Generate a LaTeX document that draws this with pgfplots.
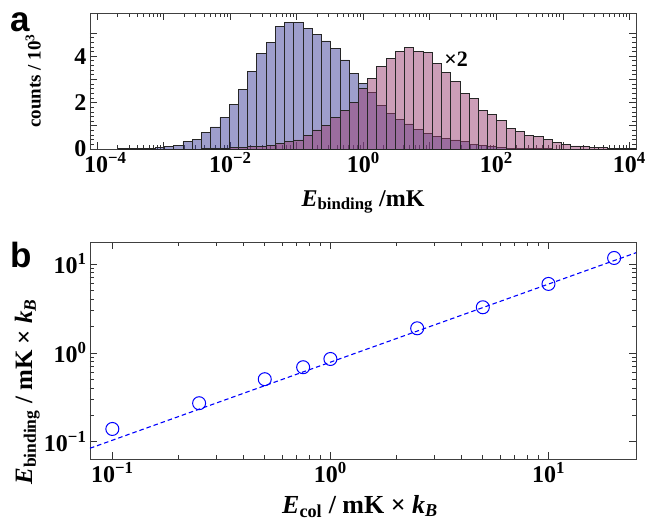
\documentclass[border=0pt]{standalone}
\usepackage{fontspec}
\setmainfont{Liberation Serif}
\newfontfamily\hv{Liberation Sans}
\usepackage{pgfplots}
\usepackage{pgfplotstable}
\pgfplotsset{compat=1.18}

\definecolor{mmblue}{rgb}{0.24,0.24,0.6}
\definecolor{mmpink}{rgb}{0.6,0.24,0.4428}
\newcommand{\tl}[1]{\textbf{10\textsuperscript{#1}}}
\newcommand{\Eb}{\textbf{\textit{E}}\textsubscript{\textbf{binding}}}

% bin left edge (mK), counts/10^3 ; last row closes the final bin
\pgfplotstableread{
edge     val
2.070e-4 0.01
2.850e-4 0.01
3.923e-4 0.02
5.400e-4 0.03
7.434e-4 0.05
1.023e-3 0.10
1.409e-3 0.16
1.939e-3 0.31
2.669e-3 0.42
3.675e-3 0.71
5.059e-3 0.95
6.964e-3 1.35
9.586e-3 1.93
1.320e-2 2.57
1.816e-2 3.33
2.500e-2 4.13
3.442e-2 4.59
4.738e-2 5.27
6.522e-2 5.46
8.979e-2 5.45
0.1236   5.20
0.1701   4.94
0.2342   4.66
0.3224   4.34
0.4438   3.84
0.6109   3.26
0.8410   2.83
1.1577   2.43
1.5937   1.88
2.1938   1.54
3.0200   1.29
4.1572   1.08
5.7228   0.85
7.8779   0.68
10.844   0.56
14.928   0.46
20.550   0.39
28.288   0.31
38.942   0.20
53.608   0.14
73.796   0.10
101.58   0.06
139.83   0.04
192.49   0.03
264.97   0.02
364.78   0.01
502.15   0.01
691.26   0
}\bluehist

\pgfplotstableread{
edge     val
3.675e-3 0.01
5.059e-3 0.02
6.964e-3 0.03
9.586e-3 0.05
1.320e-2 0.07
1.816e-2 0.10
2.500e-2 0.12
3.442e-2 0.16
4.738e-2 0.23
6.522e-2 0.31
8.979e-2 0.39
0.1236   0.58
0.1701   0.82
0.2342   1.03
0.3224   1.37
0.4438   1.68
0.6109   2.01
0.8410   2.62
1.1577   3.05
1.5937   3.55
2.1938   3.91
3.0200   4.19
4.1572   4.37
5.7228   4.19
7.8779   4.15
10.844   3.69
14.928   3.31
20.550   2.90
28.288   2.40
38.942   2.18
53.608   1.68
73.796   1.49
101.58   1.22
139.83   0.89
192.49   0.75
264.97   0.57
364.78   0.55
502.15   0.40
691.26   0.27
951.55   0.20
1309.8   0.13
1803.1   0.12
2482.0   0.07
3416.8   0.05
4703.4   0.04
6474.5   0.03
8912.5   0.02
12269    0
}\pinkhist

\pgfplotsset{
  mma/.style={
    scale only axis, anchor=south west,
    enlargelimits=false,
    axis line style={black!75, line width=0.9pt},
    major tick length=7pt, minor tick length=4pt,
    every tick/.style={black!80, line width=0.7pt},
    tick label style={font=\fontsize{24}{26}\selectfont\bfseries},
  },
}

\begin{document}
\begin{tikzpicture}
% panel a
\begin{axis}[mma,
  at={(90pt,-149pt)}, width=546pt, height=136pt,
  xmode=log, xmin=7.76e-5, xmax=12589,
  ymin=0, ymax=5.86,
  xtick={1e-4,1e-3,1e-2,1e-1,1,1e1,1e2,1e3,1e4},
  xticklabels={\hspace*{16pt}\tl{−4},,\tl{−2},,\tl{0},,\tl{2},,\tl{4}},
  ytick={0,1,2,3,4,5},
  yticklabels={\textbf{0},,\textbf{2},,\textbf{4},},
  minor y tick num=4,
  xlabel={\Eb\ /mK},
  ylabel={\textbf{counts / 10\textsuperscript{3}}},
  every axis x label/.style={at={(axis description cs:0.5,-0.42)}, anchor=base,
    font=\fontsize{24}{26}\selectfont\bfseries},
  every axis y label/.style={at={(axis description cs:-0.104,0.5)}, anchor=center, rotate=90,
    font=\fontsize{19}{21}\selectfont\bfseries},
]
\addplot[ybar interval, fill=mmblue, fill opacity=0.5, draw=black!85, line width=0.7pt]
  table[x=edge, y=val]{\bluehist};
\addplot[ybar interval, fill=mmpink, fill opacity=0.5, draw=black!85, line width=0.7pt]
  table[x=edge, y=val]{\pinkhist};
\node[font=\fontsize{22}{24}\selectfont\bfseries] at (axis cs:24.8,3.85) {×2};
\end{axis}

% panel b
\begin{axis}[mma,
  at={(90pt,-459pt)}, width=546pt, height=217pt,
  xmode=log, ymode=log,
  xmin=0.079, xmax=25.2, ymin=0.0638, ymax=17.7,
  xtick={0.1,1,10}, xticklabels={\tl{−1},\tl{0},\tl{1}},
  ytick={0.1,1,10}, yticklabels={\tl{−1},\tl{0},\tl{1}},
  xlabel={\textbf{\textit{E}}\textsubscript{\textbf{col}}\textbf{ / mK × }\textbf{\textit{k}}\textsubscript{\textbf{\textit{B}}}},
  ylabel={\Eb\textbf{ / mK × }\textbf{\textit{k}}\textsubscript{\textbf{\textit{B}}}},
  every axis x label/.style={at={(axis description cs:0.4945,-0.249)}, anchor=base,
    font=\fontsize{26}{28}\selectfont\bfseries},
  every axis y label/.style={at={(axis description cs:-0.115,0.31)}, anchor=center, rotate=90,
    font=\fontsize{25}{27}\selectfont\bfseries},
]
\addplot[blue, line width=1.1pt, dash pattern=on 4.5pt off 3pt]
  coordinates {(0.079,0.0843) (25.2,13.4)};
\addplot[only marks, mark=o, mark size=6.5pt, blue, line width=1pt]
  coordinates {(0.1,0.139) (0.25,0.271) (0.5,0.505) (0.75,0.689) (1,0.853)
               (2.5,1.89) (5,3.26) (10,5.97) (20,11.7)};
\end{axis}

\node[anchor=base west, inner sep=0pt, font=\hv\bfseries\fontsize{35}{35}\selectfont] at (10pt,-31pt) {a};
\node[anchor=base west, inner sep=0pt, font=\hv\bfseries\fontsize{35}{35}\selectfont] at (10pt,-267pt) {b};

\pgfresetboundingbox
\path (0pt,0pt) rectangle (647pt,-520pt);
\end{tikzpicture}
\end{document}
